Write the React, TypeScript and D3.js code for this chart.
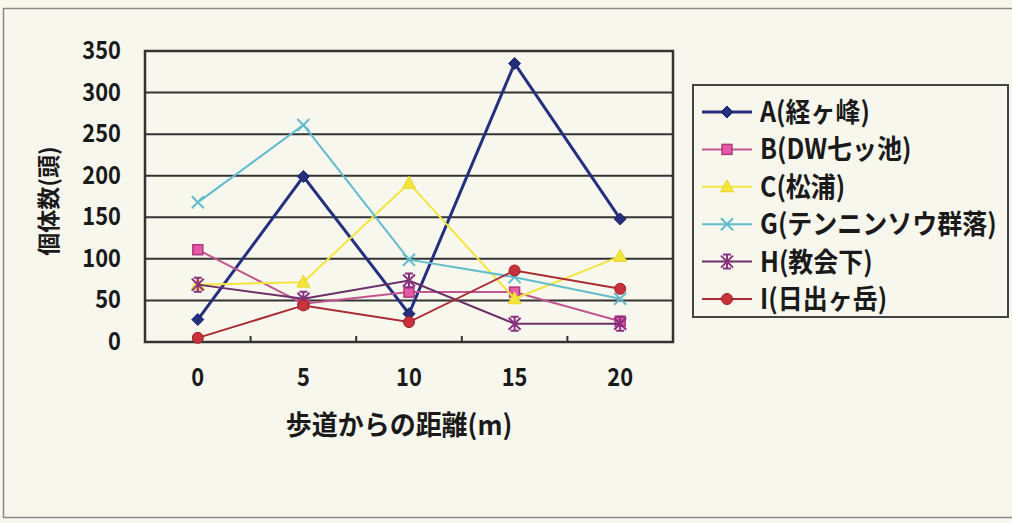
import React from "react";
import * as d3 from "d3";

// Distance from the trail (m)
const distances = ["0", "5", "10", "15", "20"];

// Individual counts per site
const siteA = [27, 199, 34, 335, 148];
const siteB = [111, 46, 60, 60, 25];
const siteC = [69, 72, 191, 52, 103];
const siteG = [168, 261, 99, 78, 52];
const siteH = [69, 52, 74, 22, 22];
const siteI = [5, 44, 24, 86, 64];

const yTicks = [0, 50, 100, 150, 200, 250, 300, 350];

type Marker = "diamond" | "square" | "triangle" | "x" | "asterisk" | "circle";

const series: { name: string; values: number[]; line: string; fill: string; stroke: string; width: number; marker: Marker }[] = [
  { name: "A(経ヶ峰)", values: siteA, line: "#24307e", fill: "#24307e", stroke: "#1a2266", width: 3, marker: "diamond" },
  { name: "B(DW七ッ池)", values: siteB, line: "#c0578f", fill: "#e45aa6", stroke: "#b03a7a", width: 2, marker: "square" },
  { name: "C(松浦)", values: siteC, line: "#f2e63e", fill: "#f4e53a", stroke: "#e8d62a", width: 2, marker: "triangle" },
  { name: "G(テンニンソウ群落)", values: siteG, line: "#62bccc", fill: "none", stroke: "#62bccc", width: 2, marker: "x" },
  { name: "H(教会下)", values: siteH, line: "#6c2f68", fill: "none", stroke: "#8a3080", width: 2, marker: "asterisk" },
  { name: "I(日出ヶ岳)", values: siteI, line: "#a82c32", fill: "#c8323a", stroke: "#a02028", width: 2, marker: "circle" },
];

const W = 1012;
const H = 523;
const plot = { left: 145, right: 673, top: 51, bottom: 342 };
const FONT = "'Noto Sans CJK JP', 'Noto Sans', sans-serif";
const INK = "#1a1a1a";

function MarkerShape({ kind, x, y, fill, stroke }: { kind: Marker; x: number; y: number; fill: string; stroke: string }) {
  switch (kind) {
    case "diamond":
      return <path d={`M${x},${y - 6}L${x + 6},${y}L${x},${y + 6}L${x - 6},${y}Z`} fill={fill} stroke={stroke} strokeWidth={1} />;
    case "square":
      return <rect x={x - 5} y={y - 5} width={10} height={10} fill={fill} stroke={stroke} strokeWidth={1.5} />;
    case "triangle":
      return <path d={`M${x},${y - 7}L${x + 6.5},${y + 5}L${x - 6.5},${y + 5}Z`} fill={fill} stroke={stroke} strokeWidth={1} />;
    case "x":
      return <path d={`M${x - 6},${y - 6}L${x + 6},${y + 6}M${x + 6},${y - 6}L${x - 6},${y + 6}`} stroke={stroke} strokeWidth={2} />;
    case "asterisk":
      return (
        <path
          d={`M${x - 6},${y - 6}L${x + 6},${y + 6}M${x + 6},${y - 6}L${x - 6},${y + 6}M${x},${y - 7}L${x},${y + 7}M${x - 4},${y - 7}L${x + 4},${y - 7}M${x - 4},${y + 7}L${x + 4},${y + 7}`}
          stroke={stroke}
          strokeWidth={2}
          fill="none"
        />
      );
    case "circle":
      return <circle cx={x} cy={y} r={5.5} fill={fill} stroke={stroke} strokeWidth={1} />;
  }
}

export default function App() {
  const x = d3.scaleBand<string>().domain(distances).range([plot.left, plot.right]);
  const y = d3.scaleLinear().domain([0, 350]).range([plot.bottom, plot.top]);
  const cx = (d: string) => (x(d) ?? 0) + x.bandwidth() / 2;
  const line = d3
    .line<number>()
    .x((_, i) => cx(distances[i]))
    .y((v) => y(v));

  const legendTop = 112;
  const legendStep = 37.4;

  return (
    <svg
      width={W}
      height={H}
      style={{ position: "absolute", left: 0, top: 0, background: "#f8f7ee" }}
      fontFamily={FONT}
    >
      <rect x={0} y={0} width={W} height={H} fill="#f8f7ee" />
      {/* outer chart frame */}
      <path d={`M${W},8.5H3.5V517.5H${W}`} fill="none" stroke="#888" strokeWidth={1.5} />

      {/* horizontal gridlines */}
      {yTicks.map((t) => (
        <line key={t} x1={plot.left} x2={plot.right} y1={y(t)} y2={y(t)} stroke="#333" strokeWidth={2} />
      ))}
      {/* plot border */}
      <rect
        x={plot.left}
        y={plot.top}
        width={plot.right - plot.left}
        height={plot.bottom - plot.top}
        fill="none"
        stroke="#333"
        strokeWidth={2.5}
      />
      {/* category dividers on the x axis */}
      {distances.slice(1).map((d) => (
        <line key={d} x1={x(d)} x2={x(d)} y1={plot.bottom} y2={plot.bottom - 6} stroke="#333" strokeWidth={2} />
      ))}

      {/* y tick labels */}
      {yTicks.map((t) => (
        <g key={t} transform={`translate(121,${y(t) + 8}) scale(0.95,1.1)`}>
          <text textAnchor="end" fontSize={23} fontWeight={700} fill={INK}>
            {t}
          </text>
        </g>
      ))}
      {/* x tick labels */}
      {distances.map((d) => (
        <g key={d} transform={`translate(${cx(d)},386) scale(0.95,1.1)`}>
          <text textAnchor="middle" fontSize={23} fontWeight={700} fill={INK}>
            {d}
          </text>
        </g>
      ))}

      {/* axis titles */}
      <g transform="translate(399,435) scale(1,1.05)">
        <text textAnchor="middle" fontSize={26} fontWeight={700} fill={INK}>
          歩道からの距離(m)
        </text>
      </g>
      <text
        transform="translate(57,201) rotate(-90)"
        textAnchor="middle"
        fontSize={23}
        fontWeight={700}
        fill={INK}
      >
        個体数(頭)
      </text>

      {/* series lines and markers */}
      {series.map((s) => (
        <g key={s.name}>
          <path d={line(s.values) ?? ""} fill="none" stroke={s.line} strokeWidth={s.width} />
          {s.values.map((v, i) => (
            <MarkerShape key={i} kind={s.marker} x={cx(distances[i])} y={y(v)} fill={s.fill} stroke={s.stroke} />
          ))}
        </g>
      ))}

      {/* legend */}
      <rect x={693} y={85} width={315} height={232} fill="#f8f7ee" stroke="#444" strokeWidth={2} />
      {series.map((s, i) => {
        const ly = legendTop + i * legendStep;
        return (
          <g key={s.name}>
            <line x1={702} x2={752} y1={ly} y2={ly} stroke={s.line} strokeWidth={s.width} />
            <MarkerShape kind={s.marker} x={727} y={ly} fill={s.fill} stroke={s.stroke} />
            <g transform={`translate(760,${ly + 10}) scale(1,1.1)`}>
              <text fontSize={25} fontWeight={700} fill={INK}>
                {s.name}
              </text>
            </g>
          </g>
        );
      })}
    </svg>
  );
}
